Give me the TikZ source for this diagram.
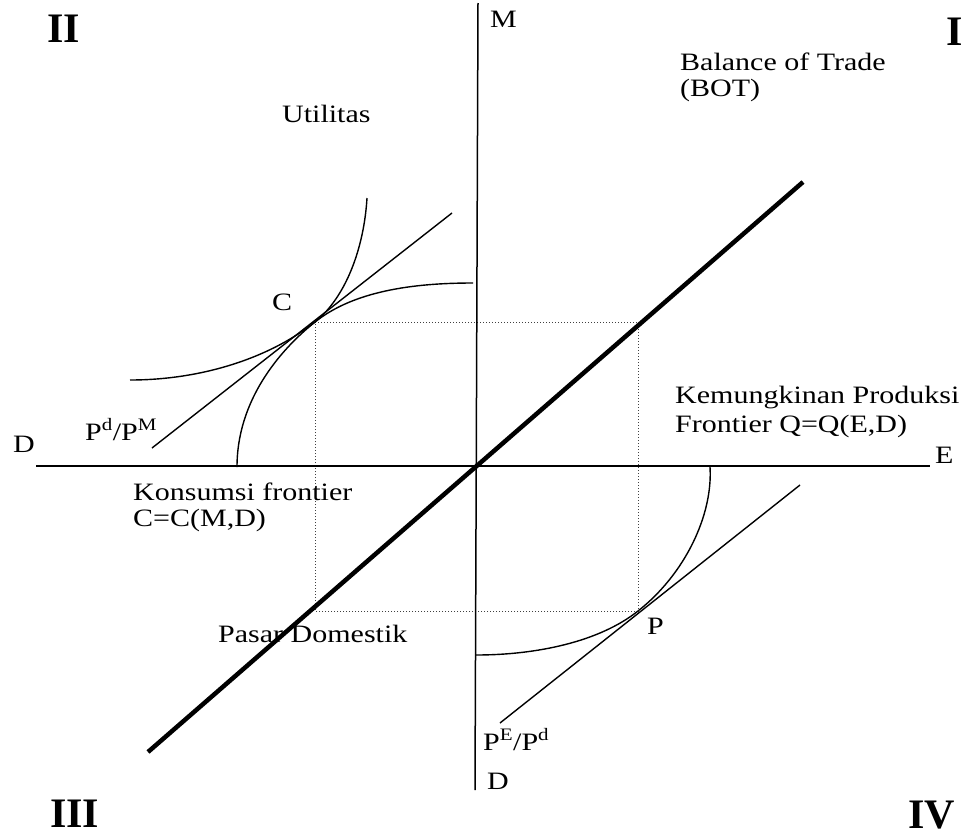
\documentclass[tikz,border=0pt]{standalone}
\usepackage{fontspec}
\setmainfont{Liberation Serif}[FakeStretch=1.2]
\newfontfamily\quadfont{Liberation Serif}
\begin{document}
\begin{tikzpicture}[x=1pt,y=-1pt,
  lbl/.style={font=\fontsize{25}{29}\selectfont, inner sep=0pt, anchor=base west},
  quad/.style={font=\quadfont\bfseries\fontsize{42}{46}\selectfont, inner sep=0pt, anchor=base west},
  axisline/.style={line width=1.5pt},
  curveline/.style={line width=1.4pt},
  tradeline/.style={line width=4.5pt},
  guide/.style={line width=0.9pt, dash pattern=on 1pt off 2pt, black!75}]
\useasboundingbox (0,0) rectangle (964,838);
% key points
\coordinate (O) at (476,466);
\coordinate (Mtop) at (478,3);
\coordinate (Dbot) at (475,790);
\coordinate (Dleft) at (36,466);
\coordinate (Eright) at (930,466);
\coordinate (T1) at (148,752);
\coordinate (T2) at (803,182);
\coordinate (C) at (315,322);
\coordinate (P) at (638,611);
\coordinate (L1a) at (152,448);
\coordinate (L1b) at (452,213);
\coordinate (L2a) at (500,723);
\coordinate (L2b) at (800,485);
% dotted rectangle
\draw[guide] (C) -- (P|-C) -- (P) -- (C|-P) -- cycle;
% axes
\draw[axisline] (Dleft) -- (Eright);
\draw[axisline] (Mtop) -- (Dbot);
% trade line
\draw[tradeline] (T1) -- (T2);
% quadrant II
\draw[curveline] (367,198) .. controls (364,248) and (346,297) .. (C)
                 .. controls (268,359) and (200,380) .. (130,380);
\draw[curveline] (473,283) .. controls (413,283) and (354,291) .. (C)
                 .. controls (280,350) and (237,400) .. (237,467);
\draw[curveline] (L1a) -- (L1b);
% quadrant IV
\draw[curveline] (476,655) .. controls (536,655) and (599,642) .. (P)
                 .. controls (685,574) and (713,515) .. (710,467);
\draw[curveline] (L2a) -- (L2b);
% labels
\node[quad] (qII) at (47,42) {II};
\node[quad] (qI) at (946,45) {I};
\node[quad] (qIII) at (50,827) {III};
\node[quad] (qIV) at (908,828) {IV};
\node[lbl] (lM) at (490,27) {M};
\node[lbl] (lBOT1) at (680,70) {Balance of Trade};
\node[lbl] (lBOT2) at (680,96) {(BOT)};
\node[lbl] (lUtil) at (282,122) {Utilitas};
\node[lbl] (lC) at (272,310) {C};
\node[lbl] (lPdPM) at (85,440) {P\textsuperscript{d}/P\textsuperscript{M}};
\node[lbl] (lDl) at (13,452) {D};
\node[lbl] (lKons1) at (133,500) {Konsumsi frontier};
\node[lbl] (lKons2) at (133,526) {C=C(M,D)};
\node[lbl] (lKem1) at (675,403) {Kemungkinan Produksi};
\node[lbl] (lKem2) at (675,432) {Frontier Q=Q(E,D)};
\node[lbl] (lE) at (935,463) {E};
\node[lbl] (lPasar) at (218,642) {Pasar Domestik};
\node[lbl] (lP) at (647,634) {P};
\node[lbl] (lPEPd) at (483,750) {P\textsuperscript{E}/P\textsuperscript{d}};
\node[lbl] (lDb) at (487,789) {D};
\end{tikzpicture}
\end{document}
